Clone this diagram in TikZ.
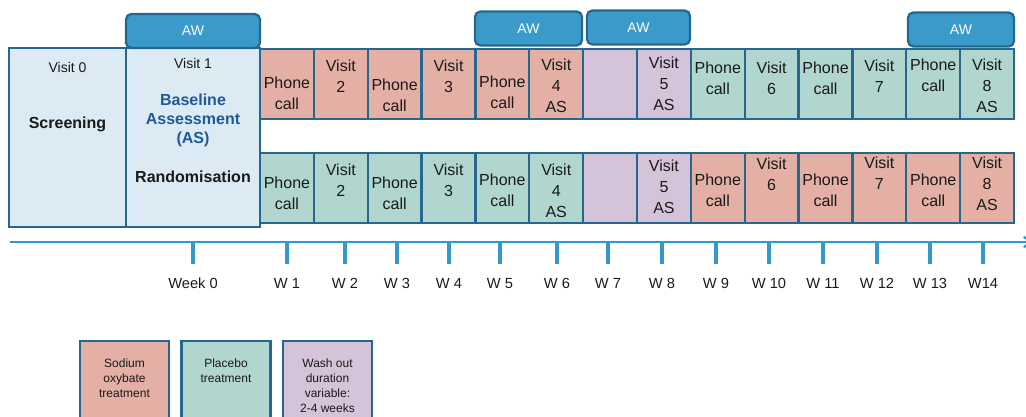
\documentclass[tikz,border=0pt]{standalone}
\usepackage{fontspec}
\setmainfont{Liberation Sans}
\usetikzlibrary{arrows.meta}
\definecolor{cSod}{HTML}{E4B0A5}
\definecolor{cPla}{HTML}{B0D6CF}
\definecolor{cWash}{HTML}{D5C3D9}
\definecolor{cBase}{HTML}{DBEAF3}
\definecolor{cBord}{HTML}{26688D}
\definecolor{cAW}{HTML}{3A9BCB}
\definecolor{cAxis}{HTML}{3399CC}
\definecolor{cBlue}{HTML}{1F5A93}
\definecolor{cTxt}{HTML}{1A1A1A}
\begin{document}
\begin{tikzpicture}[x=0.75pt,y=-0.75pt,
  box/.style={draw=cBord,line width=1.7pt,inner sep=0pt},
  celltext/.style={align=center,inner sep=0pt,text=cTxt,font=\fontsize{12}{15.75}\selectfont},
  awbox/.style={draw=cBord,line width=1.7pt,fill=cAW,rounded corners=4pt,inner sep=0pt,text=white,font=\fontsize{10.5}{12}\selectfont},
  wk/.style={inner sep=0pt,anchor=base,text=cTxt,font=\fontsize{11}{13}\selectfont},
  legtext/.style={align=center,inner sep=0pt,text=cTxt,font=\fontsize{9}{11.25}\selectfont},
  axisline/.style={draw=cAxis,line width=1.5pt},
  tick/.style={draw=cAxis,line width=2.4pt}]
\useasboundingbox (0,0) rectangle (1026,417);
% big boxes
\node[box,fill=cBase,minimum width=117*0.75pt,minimum height=179*0.75pt] (v0) at (67.5,137.5) {};
\node[box,fill=cBase,minimum width=134*0.75pt,minimum height=179*0.75pt] (v1) at (193,137.5) {};
\node[celltext,font=\fontsize{10.5}{12}\selectfont] (v0a) at (67.5,67) {Visit 0};
\node[celltext,font=\bfseries\fontsize{12}{15}\selectfont] (v0b) at (67.5,124) {Screening};
\node[celltext,font=\fontsize{10.5}{12}\selectfont] (v1a) at (193,63) {Visit 1};
\node[celltext,text=cBlue,font=\bfseries\fontsize{12}{14.25}\selectfont] (v1b) at (193,120) {Baseline\\Assessment\\(AS)};
\node[celltext,font=\bfseries\fontsize{12}{15}\selectfont] (v1c) at (193,177) {Randomisation};
% top row
\foreach \i/\c/\t/\ty in {1/cSod/{Phone\\call}/93, 2/cSod/{Visit\\2}/76, 3/cSod/{Phone\\call}/95, 4/cSod/{Visit\\3}/76,
  5/cSod/{Phone\\call}/92, 6/cSod/{Visit\\4\\AS}/86, 7/cWash/{}/84, 8/cWash/{Visit\\5\\AS}/84,
  9/cPla/{Phone\\call}/78, 10/cPla/{Visit\\6}/78, 11/cPla/{Phone\\call}/78, 12/cPla/{Visit\\7}/76,
  13/cPla/{Phone\\call}/75, 14/cPla/{Visit\\8\\AS}/86}{
  \node[box,fill=\c,minimum width=53.86*0.75pt,minimum height=70*0.75pt] (t\i) at ({260+(\i-0.5)*53.86},84) {};
  \node[celltext] (tt\i) at ({260+(\i-0.5)*53.86},\ty) {\t};
}
% bottom row
\foreach \i/\c/\t/\ty in {1/cPla/{Phone\\call}/193, 2/cPla/{Visit\\2}/180, 3/cPla/{Phone\\call}/193, 4/cPla/{Visit\\3}/180,
  5/cPla/{Phone\\call}/190, 6/cPla/{Visit\\4\\AS}/191, 7/cWash/{}/188, 8/cWash/{Visit\\5\\AS}/187,
  9/cSod/{Phone\\call}/190, 10/cSod/{Visit\\6}/174, 11/cSod/{Phone\\call}/190, 12/cSod/{Visit\\7}/173,
  13/cSod/{Phone\\call}/190, 14/cSod/{Visit\\8\\AS}/184}{
  \node[box,fill=\c,minimum width=53.86*0.75pt,minimum height=70*0.75pt] (b\i) at ({260+(\i-0.5)*53.86},188) {};
  \node[celltext] (bt\i) at ({260+(\i-0.5)*53.86},\ty) {\t};
}
% AW boxes
\node[awbox,minimum width=134*0.75pt,minimum height=34*0.75pt] (aw1) at (193,31) {AW};
\node[awbox,minimum width=107*0.75pt,minimum height=34*0.75pt] (aw2) at (528.5,28.5) {AW};
\node[awbox,minimum width=103*0.75pt,minimum height=34*0.75pt] (aw3) at (638.5,27.5) {AW};
\node[awbox,minimum width=106*0.75pt,minimum height=34*0.75pt] (aw4) at (961,29.5) {AW};
% axis
\coordinate (axL) at (10,242);
\coordinate (axR) at (1032,242);
\draw[axisline,-{Straight Barb[length=5pt,width=8pt]}] (axL) -- (axR);
\foreach \n/\x/\lab in {0/193/Week 0, 1/287/W 1, 2/345/W 2, 3/397/W 3, 4/449/W 4, 5/500/W 5, 6/557/W 6,
  7/608/W 7, 8/662/W 8, 9/716/W 9, 10/769/W 10, 11/823/W 11, 12/877/W 12, 13/930/W 13, 14/983/W14}{
  \coordinate (tk\n) at (\x,242);
  \coordinate (te\n) at (\x,264);
  \draw[tick] (tk\n) -- (te\n);
  \node[wk] (wl\n) at (\x,288.5) {\lab};
}
% legend
\node[box,fill=cSod,minimum width=89*0.75pt,minimum height=90*0.75pt] (lg1) at (124.5,386) {};
\node[box,fill=cPla,minimum width=89*0.75pt,minimum height=90*0.75pt] (lg2) at (226,386) {};
\node[box,fill=cWash,minimum width=89*0.75pt,minimum height=90*0.75pt] (lg3) at (327.5,386) {};
\node[legtext] (lt1) at (124.5,378) {Sodium\\oxybate\\treatment};
\node[legtext] (lt2) at (226,370.5) {Placebo\\treatment};
\node[legtext] (lt3) at (327.5,386) {Wash out\\duration\\variable:\\2-4 weeks};
\end{tikzpicture}
\end{document}
